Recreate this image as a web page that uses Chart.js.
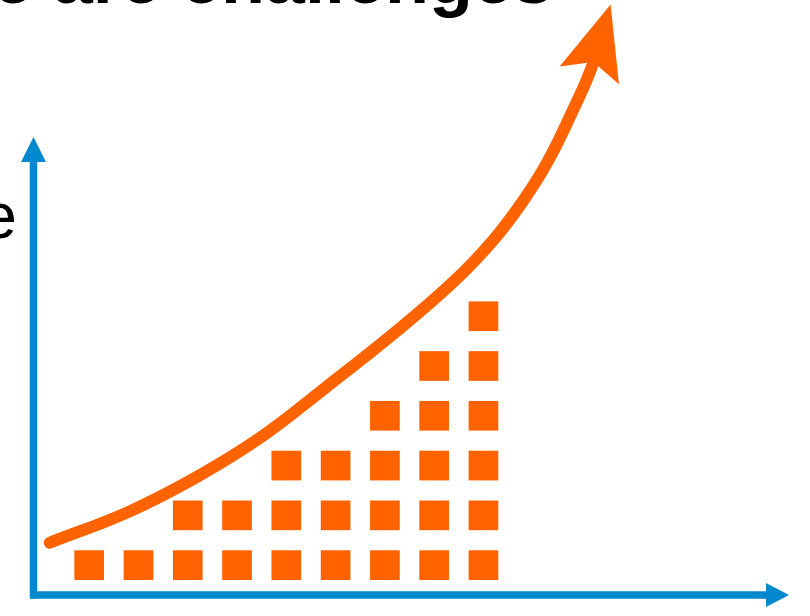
<!DOCTYPE html>
<html>
<head>
<meta charset="utf-8">
<script src="https://cdn.jsdelivr.net/npm/chart.js@4"></script>
<style>
  body { margin: 0; background: #fff; }
  canvas { display: block; }
</style>
</head>
<body>
<canvas id="growthChart" width="810" height="616"></canvas>
<script>
// columns of blocks and how many blocks each one stacks
const columns = [1, 2, 3, 4, 5, 6, 7, 8, 9];
const stackHeights = [1, 1, 2, 2, 3, 3, 4, 5, 6];

// growth curve, last point is the arrow tip
const curveX = [0.2, 1.8, 3.2, 4.5, 5.8, 7.2, 8.4, 9.2, 9.8, 10.3, 10.76, 11.2, 11.58];
const curveY = [1.45, 2.07, 2.78, 3.58, 4.57, 5.67, 6.7, 7.53, 8.31, 9.1, 10.02, 11.01, 12.26];

const titleText = 'Volume and scale are challenges';
const axisLabel = 'Scale';

const ORANGE = '#FF6300';
const BLUE = '#0288CC';

const blocks = [];
columns.forEach((col, i) => {
    for (let r = 1; r <= stackHeights[i]; r++) {
        blocks.push({ x: col, y: r });
    }
});

const curve = curveX.map((x, i) => ({ x: x, y: curveY[i] }));
const lastIdx = curve.length - 1;

const axesPlugin = {
    id: 'axes',
    beforeDatasetsDraw(chart) {
        const { ctx, chartArea } = chart;
        const left = chartArea.left - 0.5;
        const bottom = chartArea.bottom;
        ctx.save();
        ctx.strokeStyle = BLUE;
        ctx.fillStyle = BLUE;
        ctx.lineWidth = 7.5;
        ctx.lineCap = 'butt';

        ctx.beginPath();
        ctx.moveTo(left, bottom + 3.5);
        ctx.lineTo(left, chartArea.top + 25);
        ctx.stroke();
        ctx.beginPath();
        ctx.moveTo(left, chartArea.top);
        ctx.lineTo(left - 12.5, chartArea.top + 25);
        ctx.lineTo(left + 12.5, chartArea.top + 25);
        ctx.closePath();
        ctx.fill();

        ctx.beginPath();
        ctx.moveTo(left - 3.5, bottom);
        ctx.lineTo(chartArea.right - 23, bottom);
        ctx.stroke();
        ctx.beginPath();
        ctx.moveTo(chartArea.right, bottom);
        ctx.lineTo(chartArea.right - 23, bottom - 12);
        ctx.lineTo(chartArea.right - 23, bottom + 12);
        ctx.closePath();
        ctx.fill();
        ctx.restore();
    }
};

const arrowHeadPlugin = {
    id: 'arrowHead',
    afterDatasetsDraw(chart) {
        const pts = chart.getDatasetMeta(1).data;
        const tip = pts[pts.length - 1];
        const base = pts[pts.length - 2];
        let ux = tip.x - base.x, uy = tip.y - base.y;
        const len = Math.hypot(ux, uy);
        ux /= len; uy /= len;
        const nx = -uy, ny = ux;
        const ctx = chart.ctx;
        ctx.save();
        ctx.fillStyle = ORANGE;
        ctx.beginPath();
        ctx.moveTo(tip.x, tip.y);
        ctx.lineTo(tip.x - ux * 74 + nx * 31, tip.y - uy * 74 + ny * 31);
        ctx.lineTo(tip.x - ux * 60, tip.y - uy * 60);
        ctx.lineTo(tip.x - ux * 74 - nx * 31, tip.y - uy * 74 - ny * 31);
        ctx.closePath();
        ctx.fill();
        ctx.restore();
    }
};

const textPlugin = {
    id: 'slideText',
    afterDraw(chart) {
        const ctx = chart.ctx;
        ctx.save();
        ctx.fillStyle = '#000';
        ctx.textBaseline = 'alphabetic';
        ctx.textAlign = 'right';
        ctx.font = 'bold 72px "Liberation Sans", Arial, sans-serif';
        ctx.fillText(titleText, 553, 3);
        ctx.font = '65px "Liberation Sans", Arial, sans-serif';
        ctx.fillText(axisLabel, 17, 238);
        ctx.restore();
    }
};

new Chart(document.getElementById('growthChart'), {
    type: 'scatter',
    data: {
        datasets: [
            {
                data: blocks,
                pointStyle: 'rect',
                pointRadius: 21,
                pointHoverRadius: 21,
                pointBorderWidth: 0,
                backgroundColor: ORANGE,
                borderWidth: 0
            },
            {
                data: curve,
                showLine: true,
                borderColor: ORANGE,
                borderWidth: 12,
                borderCapStyle: 'round',
                tension: 0.4,
                pointRadius: 0,
                pointHoverRadius: 0,
                clip: false,
                segment: {
                    borderColor: ctx => ctx.p1DataIndex === lastIdx ? 'rgba(0,0,0,0)' : undefined
                }
            }
        ]
    },
    options: {
        responsive: false,
        animation: false,
        devicePixelRatio: 1,
        layout: { padding: { left: 34, right: 10, top: 137, bottom: 16 } },
        scales: {
            x: { type: 'linear', display: false, min: -0.12, max: 15.2 },
            y: { type: 'linear', display: false, min: 0.4, max: 9.6 }
        },
        plugins: {
            legend: { display: false },
            tooltip: { enabled: false }
        }
    },
    plugins: [axesPlugin, arrowHeadPlugin, textPlugin]
});
</script>
</body>
</html>
